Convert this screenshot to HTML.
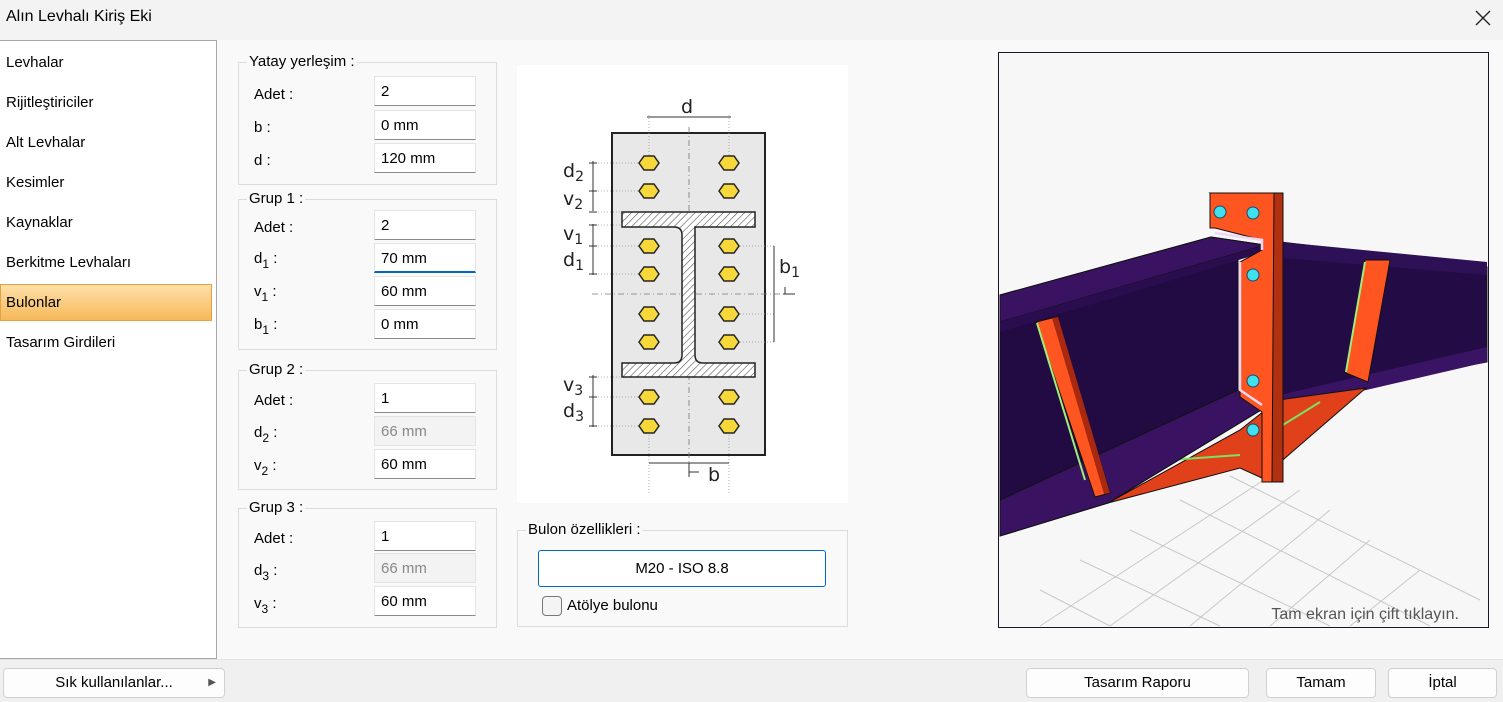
<!DOCTYPE html>
<html><head><meta charset="utf-8"><style>
*{box-sizing:border-box;margin:0;padding:0}
body{width:1503px;height:702px;position:relative;overflow:hidden;background:#f9f9f9;font-family:"Liberation Sans","DejaVu Sans",sans-serif;font-size:15px;color:#000}
.a{position:absolute}
.nav div{position:absolute;left:6px;font-size:15px}
.gb{position:absolute;border:1px solid #dcdcdc;left:238px;width:259px}
.gt{position:absolute;left:8px;top:-10px;background:#f9f9f9;padding:0 2px;font-size:15px;line-height:18px}
.lb{position:absolute;left:254px;font-size:15px}
.lb sub{font-size:12px;vertical-align:-5px}
.in{position:absolute;left:374px;width:102px;height:30px;background:#fff;border:1px solid #e4e4e4;border-bottom:1px solid #8a8a8a;padding:6px 0 0 6px;font-size:15px}
.dis{background:#f3f3f3;color:#888;border-bottom-color:#e4e4e4}
.btn{position:absolute;top:668px;height:30px;background:#fdfdfd;border:1px solid #d0d0d0;border-radius:4px;text-align:center;line-height:28px;font-size:15px}
</style></head><body>
<div class="a" style="left:0;top:0;width:1503px;height:40px;background:#f3f3f3"></div>
<div class="a" style="left:6px;top:8px;font-size:16px">Alın Levhalı Kiriş Eki</div>
<svg class="a" style="left:1474px;top:9px" width="18" height="18"><path d="M2 2L16 16M16 2L2 16" stroke="#222" stroke-width="1.4"/></svg>
<div class="a nav" style="left:0;top:40px;width:217px;height:619px;background:#fff;border:1px solid #a8a8a8;border-left:none">
<div style="top:13px">Levhalar</div>
<div style="top:53px">Rijitleştiriciler</div>
<div style="top:93px">Alt Levhalar</div>
<div style="top:133px">Kesimler</div>
<div style="top:173px">Kaynaklar</div>
<div style="top:213px">Berkitme Levhaları</div>
<div style="left:0;top:243px;width:212px;height:37px;background:linear-gradient(#fde0a8,#f7b95a);border:1px solid #e8a040"></div>
<div style="top:253px">Bulonlar</div>
<div style="top:293px">Tasarım Girdileri</div>
</div>

<div class="gb" style="top:62px;height:123px"><div class="gt">Yatay yerleşim :</div></div>
<div class="lb" style="top:86px">Adet :</div><div class="in" style="top:76px">2</div>
<div class="lb" style="top:119px">b :</div><div class="in" style="top:110px">0 mm</div>
<div class="lb" style="top:152px">d :</div><div class="in" style="top:143px">120 mm</div>

<div class="gb" style="top:199px;height:151px"><div class="gt">Grup 1 :</div></div>
<div class="lb" style="top:219px">Adet :</div><div class="in" style="top:210px">2</div>
<div class="lb" style="top:250px">d<sub>1</sub> :</div><div class="in" style="top:243px;border-bottom:2px solid #0067c0">70 mm</div>
<div class="lb" style="top:283px">v<sub>1</sub> :</div><div class="in" style="top:276px">60 mm</div>
<div class="lb" style="top:316px">b<sub>1</sub> :</div><div class="in" style="top:309px">0 mm</div>

<div class="gb" style="top:370px;height:120px"><div class="gt">Grup 2 :</div></div>
<div class="lb" style="top:392px">Adet :</div><div class="in" style="top:383px">1</div>
<div class="lb" style="top:424px">d<sub>2</sub> :</div><div class="in dis" style="top:416px">66 mm</div>
<div class="lb" style="top:457px">v<sub>2</sub> :</div><div class="in" style="top:449px">60 mm</div>

<div class="gb" style="top:508px;height:120px"><div class="gt">Grup 3 :</div></div>
<div class="lb" style="top:530px">Adet :</div><div class="in" style="top:521px">1</div>
<div class="lb" style="top:562px">d<sub>3</sub> :</div><div class="in dis" style="top:553px">66 mm</div>
<div class="lb" style="top:595px">v<sub>3</sub> :</div><div class="in" style="top:586px">60 mm</div>

<svg class="a" style="left:517px;top:65px" width="331" height="438" viewBox="0 0 331 438">
<defs><pattern id="h" width="5" height="5" patternUnits="userSpaceOnUse" patternTransform="rotate(45)"><rect width="5" height="5" fill="#fff"/><line x1="0" y1="0" x2="0" y2="5" stroke="#555" stroke-width="1.2"/></pattern>
<polygon id="bt" points="-10,0 -5,-7 5,-7 10,0 5,7 -5,7" fill="#f6d83a" stroke="#222" stroke-width="1.5"/></defs>
<rect width="331" height="438" fill="#fff"/>
<rect x="95" y="68" width="153" height="322" fill="#e8e8e8" stroke="#222" stroke-width="2"/>
<g stroke="#777" stroke-dasharray="6 3 1 3" stroke-width="0.8"><line x1="172" y1="62" x2="172" y2="398"/><line x1="75" y1="229" x2="278" y2="229"/></g>
<g stroke="#999" stroke-dasharray="1 2" stroke-width="0.8">
<line x1="132" y1="50" x2="132" y2="98"/><line x1="212" y1="50" x2="212" y2="98"/><line x1="132" y1="361" x2="132" y2="430"/><line x1="212" y1="361" x2="212" y2="430"/>
<line x1="78" y1="98" x2="124" y2="98"/><line x1="78" y1="126" x2="124" y2="126"/><line x1="78" y1="147" x2="105" y2="147"/><line x1="78" y1="160" x2="105" y2="160"/><line x1="78" y1="181" x2="124" y2="181"/><line x1="78" y1="209" x2="124" y2="209"/><line x1="78" y1="312" x2="105" y2="312"/><line x1="78" y1="332" x2="124" y2="332"/><line x1="78" y1="361" x2="124" y2="361"/>
<line x1="220" y1="181" x2="258" y2="181"/><line x1="220" y1="277" x2="258" y2="277"/><line x1="220" y1="249" x2="258" y2="249"/></g>
<path d="M105 147H238V162H178V290Q178 298 186 298H238V312H105V298H157Q165 298 165 290V170Q165 162 157 162H105Z" fill="url(#h)" stroke="#222" stroke-width="1.5"/>
<g stroke="#333" stroke-width="1"><line x1="130" y1="52" x2="214" y2="52"/><line x1="76" y1="96" x2="76" y2="146"/><line x1="76" y1="159" x2="76" y2="210"/><line x1="76" y1="310" x2="76" y2="362"/><line x1="257" y1="181" x2="257" y2="277"/><line x1="266" y1="229" x2="278" y2="229"/><line x1="132" y1="398" x2="212" y2="398"/><line x1="172" y1="398" x2="172" y2="412"/><line x1="172" y1="407" x2="182" y2="407"/>
<line x1="72" y1="98" x2="80" y2="98"/><line x1="72" y1="126" x2="80" y2="126"/><line x1="72" y1="147" x2="80" y2="147"/><line x1="72" y1="160" x2="80" y2="160"/><line x1="72" y1="181" x2="80" y2="181"/><line x1="72" y1="209" x2="80" y2="209"/><line x1="72" y1="312" x2="80" y2="312"/><line x1="72" y1="332" x2="80" y2="332"/><line x1="72" y1="361" x2="80" y2="361"/><line x1="268" y1="222" x2="268" y2="229"/></g>
<g><use href="#bt" x="132" y="98"/><use href="#bt" x="212" y="98"/><use href="#bt" x="132" y="126"/><use href="#bt" x="212" y="126"/><use href="#bt" x="132" y="181"/><use href="#bt" x="212" y="181"/><use href="#bt" x="132" y="209"/><use href="#bt" x="212" y="209"/><use href="#bt" x="132" y="249"/><use href="#bt" x="212" y="249"/><use href="#bt" x="132" y="277"/><use href="#bt" x="212" y="277"/><use href="#bt" x="132" y="332"/><use href="#bt" x="212" y="332"/><use href="#bt" x="132" y="361"/><use href="#bt" x="212" y="361"/></g>
<g font-family="DejaVu Sans,sans-serif" font-size="19" fill="#222">
<text x="164" y="48">d</text><text x="46" y="112">d<tspan font-size="14" dy="4">2</tspan></text><text x="46" y="140">v<tspan font-size="14" dy="4">2</tspan></text><text x="46" y="175">v<tspan font-size="14" dy="4">1</tspan></text><text x="46" y="201">d<tspan font-size="14" dy="4">1</tspan></text><text x="46" y="326">v<tspan font-size="14" dy="4">3</tspan></text><text x="46" y="352">d<tspan font-size="14" dy="4">3</tspan></text><text x="262" y="208">b<tspan font-size="14" dy="4">1</tspan></text><text x="191" y="416">b</text></g>
</svg>

<div class="gb" style="left:517px;top:530px;width:331px;height:97px"><div class="gt">Bulon özellikleri :</div></div>
<div class="a" style="left:538px;top:550px;width:288px;height:37px;background:#fff;border:1px solid #0067c0;border-radius:3px;text-align:center;line-height:35px">M20 - ISO 8.8</div>
<div class="a" style="left:542px;top:596px;width:20px;height:20px;border:1px solid #777;border-radius:4px;background:#f4f4f4"></div>
<div class="a" style="left:567px;top:597px">Atölye bulonu</div>

<svg class="a" style="left:998px;top:52px" width="491" height="576" viewBox="998 52 491 576">
<rect x="998" y="52" width="491" height="576" fill="#f7f7f7" stroke="#1a1628" stroke-width="2"/>
<g stroke="#c8c8c8" stroke-width="1" fill="none">
<path d="M1040 626L1270 476M1110 626L1300 490M1190 626L1330 510M1270 626L1370 540M1350 626L1420 570M1230 476L1480 600M1180 500L1430 626M1130 530L1330 626M1080 560L1220 626M1040 590L1110 626"/></g>
<polygon points="1281,242 1487,267 1487,362 1278,400" fill="#230c45" stroke="#111" stroke-width="1"/>
<polygon points="1281,242 1487,262 1487,275 1281,258" fill="#2d1055"/>
<polygon points="1280,395 1487,347 1487,362 1280,410" fill="#3a1464"/>
<polygon points="1365,260 1390,260 1368,382 1346,373" fill="#ff5520" stroke="#111"/>
<line x1="1365" y1="262" x2="1346" y2="372" stroke="#9ef07a" stroke-width="2"/>
<polygon points="1108,503 1240,468 1262,478 1366,388 1278,400 1240,430" fill="#e0401a" stroke="#111"/>
<line x1="1170" y1="460" x2="1240" y2="455" stroke="#7ce060" stroke-width="2"/>
<line x1="1278" y1="428" x2="1320" y2="402" stroke="#7ce060" stroke-width="2"/>
<polygon points="1000,295 1211,237 1265,245 1265,252 1238,258 1238,390 1261,410 1108,503 1000,536" fill="#220b42" stroke="#111"/>
<polygon points="1000,295 1211,237 1265,245 1000,322" fill="#3a1262" stroke="#111"/>
<polygon points="1000,322 1265,245 1265,252 1000,332" fill="#2a0d4e"/>
<polygon points="1000,500 1238,390 1261,410 1108,503 1000,536" fill="#3a1262" stroke="#111"/>
<polygon points="1036,322 1056,317 1110,493 1095,497" fill="#ff5520" stroke="#111"/>
<line x1="1037" y1="323" x2="1085" y2="480" stroke="#9ef07a" stroke-width="2"/>
<polygon points="1052,318 1058,317 1110,493 1104,494" fill="#a82810"/>
<polygon points="1210,193 1283,193 1283,482 1270,482 1268,230" fill="#b0300f" stroke="#111"/>
<polygon points="1210,193 1274,193 1272,482 1262,482 1262,412 1240,397 1240,262 1262,250 1262,240 1215,228 1210,228" fill="#ff5520" stroke="#111"/>
<path d="M1215,233 1262,240 1262,250 M1240,262 1240,390 1262,405" stroke="#f0d8f0" stroke-width="2.5" fill="none"/>
<g fill="#40e0f0" stroke="#1a4a6a" stroke-width="1"><circle cx="1220" cy="212" r="6"/><circle cx="1253" cy="213" r="6"/><circle cx="1253" cy="275" r="6"/><circle cx="1253" cy="381" r="6"/><circle cx="1253" cy="430" r="6"/></g>
<text x="1459" y="619" text-anchor="end" font-size="16" fill="#555">Tam ekran için çift tıklayın.</text>
</svg>

<div class="a" style="left:0;top:659px;width:1503px;height:43px;background:#f0f0f0;border-top:1px solid #e2e2e2"></div>
<div class="btn" style="left:3px;width:222px">Sık kullanılanlar...<span style="position:absolute;right:8px;font-size:10px;color:#555">▶</span></div>
<div class="btn" style="left:1026px;width:223px">Tasarım Raporu</div>
<div class="btn" style="left:1266px;width:110px">Tamam</div>
<div class="btn" style="left:1388px;width:109px">İptal</div>
</body></html>
